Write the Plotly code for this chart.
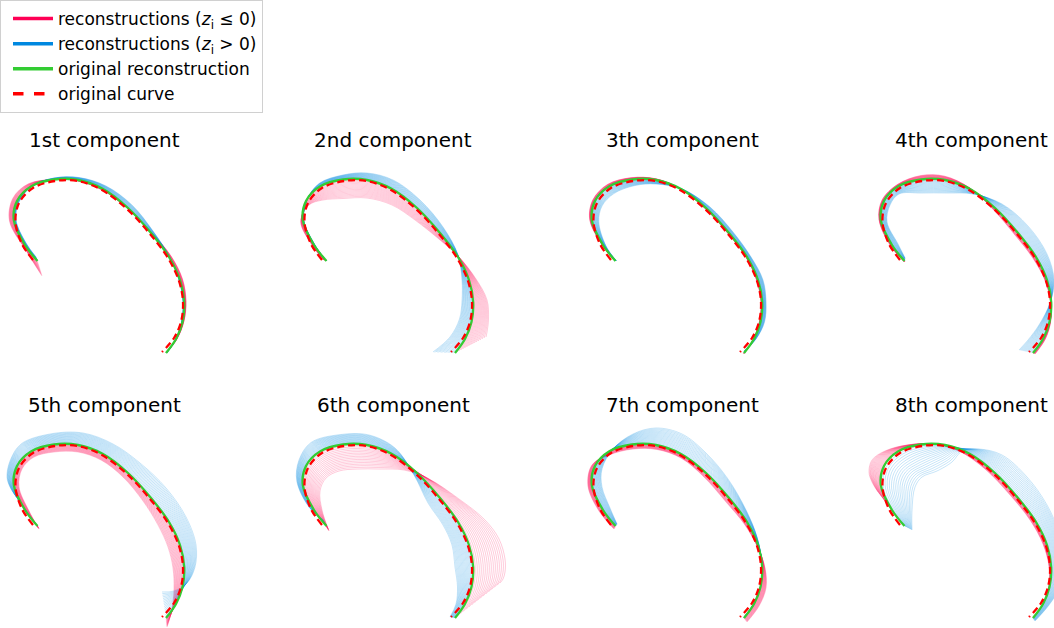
import plotly.graph_objects as go

W, H = 1054, 628
COL_STEP = 289
ROW_STEP = 265

titles = ["1st component", "2nd component", "3th component", "4th component",
          "5th component", "6th component", "7th component", "8th component"]

# z levels (fraction of the extreme latent value) for the reconstructions
z_levels = [0.0625, 0.125, 0.1875, 0.25, 0.3125, 0.375, 0.4375, 0.5,
            0.5625, 0.625, 0.6875, 0.75, 0.8125, 0.875, 0.9375, 1.0]

# original curve (red dashed), panel-local pixel coords (y downward)
orig_x = [33, 22, 15.5, 19, 33, 55, 78, 102, 127, 150, 168, 179, 183, 181, 174, 162]
orig_y = [260, 244, 222, 203, 188, 181, 181, 190, 209, 234, 258, 281, 302, 322, 338, 352]

# original reconstruction (green)
recon_x = [37.5, 25, 13.8, 17, 31, 54, 78, 103, 128, 151, 169, 180, 184.2, 182.5, 176, 166]
recon_y = [261, 245, 220, 201, 186.5, 179.5, 180, 189, 208, 233, 257, 280, 302, 322, 339, 353]

# extreme reconstructions for each component (neg = z_i <= 0, pos = z_i > 0)
c1_neg_x = [42, 27, 9.5, 13, 28, 54, 78, 102, 127, 151, 171, 182.5, 186, 184, 177, 166]
c1_neg_y = [276, 252, 221, 198, 184, 179.5, 181, 190, 208, 232, 256, 279, 301, 321, 339, 353]
c1_pos_x = [36, 26, 16, 19, 32, 54, 79, 106, 132, 153, 169, 179, 183, 181.5, 176, 167]
c1_pos_y = [257, 243, 220, 202, 186, 178, 177.5, 186, 205, 231, 256, 280, 302, 322, 339, 353]

c2_neg_x = [34.5, 23, 11.8, 20, 34, 54, 78, 103, 126, 151, 170, 187, 198, 199.5, 198, 197]
c2_neg_y = [260, 245, 222, 205, 200, 198.5, 198, 205, 220, 240, 257, 279, 300, 319, 332, 337]
c2_pos_x = [37.5, 26, 14.8, 18, 30, 54, 78, 104, 131, 154, 169, 173, 173, 170.5, 161, 144]
c2_pos_y = [261, 245, 220, 200, 183.5, 175, 173, 180, 200, 227, 255, 280, 301, 319, 337, 352]

c3_neg_x = [37.2, 24, 11.7, 15, 29.5, 53, 78, 102.7, 126.8, 149.8, 167.8, 178.5, 183, 181.3, 175.4, 166]
c3_neg_y = [261, 244.7, 219.4, 199.5, 184.4, 177.7, 178.8, 189, 208.3, 233.3, 257, 280, 302, 322, 339, 353.6]
c3_pos_x = [38.5, 28, 20.8, 24, 36, 57, 78, 104, 132, 155, 173, 185, 188, 186.5, 178, 166]
c3_pos_y = [261, 246, 222, 206, 193.5, 185.5, 184, 189, 207, 232, 257, 280, 302, 322, 339, 351]

c4_neg_x = [37.4, 23.2, 12, 15.2, 30.7, 54, 77.4, 102.1, 125.9, 148, 165.7, 177.9, 183.6, 183.7, 178.5, 168.2]
c4_neg_y = [262, 245.3, 219.4, 199.8, 184.3, 175.5, 176.1, 187.5, 209.2, 235.1, 257.9, 280, 301.7, 321.1, 338.7, 353.9]
c4_pos_x = [38, 31, 20, 23, 32, 54, 80, 106, 135, 161, 180, 187, 183, 172, 161, 152]
c4_pos_y = [258, 244, 222, 205, 194, 193, 193, 194, 204, 226, 254, 280, 303, 325, 340, 350]

c5_neg_x = [39, 29, 19, 22, 34, 54, 78, 101, 123, 143, 158, 168, 173, 174, 172, 167]
c5_neg_y = [264, 246, 222, 204, 192, 187, 187, 195, 212, 236, 260, 282, 303, 324, 344, 362]
c5_pos_x = [15, 10, 7, 10, 21, 50, 83, 113, 140, 166, 186, 196, 195, 187, 174, 162]
c5_pos_y = [230, 222, 212, 196, 179, 169, 168, 179, 198, 223, 252, 280, 302, 318, 326, 327]

c6_neg_x = [40, 33, 31, 37, 50, 68, 90, 115, 140, 170, 196, 210, 216, 216, 214, 211]
c6_neg_y = [266, 245, 226, 213, 206, 204, 204, 205, 214, 234, 255, 274, 294, 307, 314, 318]
c6_pos_x = [34.5, 20, 7.8, 10, 22, 52, 80, 106, 125, 139, 154, 163, 166, 168.5, 167, 161]
c6_pos_y = [255, 242, 216, 195, 177.5, 169.5, 170, 183, 210, 238, 260, 280, 302, 322, 339, 352]

c7_neg_x = [36, 21, 10, 14, 31, 55, 79, 103, 126, 148, 167, 180, 187, 188, 181, 169]
c7_neg_y = [264, 246, 221, 200, 190, 184, 184.5, 193, 212, 237, 260, 283, 303, 323, 341, 357]
c7_pos_x = [39, 32, 24, 24, 35, 55, 78, 104, 128, 150, 168, 179, 184, 182.5, 176, 166]
c7_pos_y = [259, 243, 222, 204, 184, 169, 163, 169, 188, 214, 245, 272, 300, 321, 338, 352]

c8_neg_x = [11, 5, 2, 5, 18, 40, 68, 92, 118, 143, 163, 176, 182, 182, 176, 166]
c8_neg_y = [227, 217, 207, 195, 186, 180, 179, 186, 204, 230, 255, 279, 301, 322, 339, 353]
c8_pos_x = [45, 45, 48, 55, 70, 85, 95, 112, 135, 160, 180, 192, 197, 194, 182, 168]
c8_pos_y = [265, 245, 222, 212, 206, 197, 186, 184, 190, 212, 240, 268, 296, 320, 340, 356]

components = [
    (c1_neg_x, c1_neg_y, c1_pos_x, c1_pos_y),
    (c2_neg_x, c2_neg_y, c2_pos_x, c2_pos_y),
    (c3_neg_x, c3_neg_y, c3_pos_x, c3_pos_y),
    (c4_neg_x, c4_neg_y, c4_pos_x, c4_pos_y),
    (c5_neg_x, c5_neg_y, c5_pos_x, c5_pos_y),
    (c6_neg_x, c6_neg_y, c6_pos_x, c6_pos_y),
    (c7_neg_x, c7_neg_y, c7_pos_x, c7_pos_y),
    (c8_neg_x, c8_neg_y, c8_pos_x, c8_pos_y),
]

PINK = "#ff0055"
BLUE = "#0088e0"
GREEN = "#33cc33"
RED = "#ff0000"
PINK_THIN = "rgba(255,20,90,0.28)"
BLUE_THIN = "rgba(0,136,224,0.28)"

fig = go.Figure()
layout_axes = {}
annotations = []

for i, (nx, ny, px, py) in enumerate(components):
    r, c = divmod(i, 4)
    ax = "" if i == 0 else str(i + 1)
    xref, yref = "x" + ax, "y" + ax
    px0 = c * COL_STEP
    px1 = min(px0 + COL_STEP, W)
    py0 = r * ROW_STEP + 150
    py1 = min(py0 + 250, H)
    layout_axes["xaxis" + ax] = dict(domain=[px0 / W, px1 / W], range=[0, px1 - px0],
                                     visible=False, fixedrange=True)
    layout_axes["yaxis" + ax] = dict(domain=[1 - py1 / H, 1 - py0 / H],
                                     range=[py1 - r * ROW_STEP, py0 - r * ROW_STEP],
                                     visible=False, fixedrange=True)
    for ex, ey, col in ((nx, ny, PINK_THIN), (px, py, BLUE_THIN)):
        for t in z_levels:
            xs = [g + t * (e - g) for g, e in zip(recon_x, ex)]
            ys = [g + t * (e - g) for g, e in zip(recon_y, ey)]
            fig.add_trace(go.Scatter(x=xs, y=ys, mode="lines", xaxis=xref, yaxis=yref,
                                     line=dict(color=col, width=0.8, shape="spline"),
                                     showlegend=False, hoverinfo="skip"))
    fig.add_trace(go.Scatter(x=recon_x, y=recon_y, mode="lines", xaxis=xref, yaxis=yref,
                             line=dict(color=GREEN, width=2.3, shape="spline"),
                             showlegend=False, hoverinfo="skip"))
    fig.add_trace(go.Scatter(x=orig_x, y=orig_y, mode="lines", xaxis=xref, yaxis=yref,
                             line=dict(color=RED, width=2.3, shape="spline", dash="7px,4px"),
                             showlegend=False, hoverinfo="skip"))
    annotations.append(dict(text=titles[i], xref="paper", yref="paper",
                            x=(104 + c * COL_STEP) / W, y=1 - (140 + r * ROW_STEP) / H,
                            xanchor="center", yanchor="middle", showarrow=False,
                            font=dict(family="DejaVu Sans", size=20, color="black")))

legend_items = [
    ("reconstructions (<i>z</i><sub>i</sub> ≤ 0)", PINK, "solid"),
    ("reconstructions (<i>z</i><sub>i</sub> > 0)", BLUE, "solid"),
    ("original reconstruction", GREEN, "solid"),
    ("original curve", RED, "dash"),
]
for name, col, dash in legend_items:
    fig.add_trace(go.Scatter(x=[None], y=[None], mode="lines", name=name,
                             line=dict(color=col, width=3.5, dash=dash),
                             xaxis="x", yaxis="y"))

fig.update_layout(
    width=W, height=H, autosize=False,
    margin=dict(l=0, r=0, t=0, b=0),
    paper_bgcolor="white", plot_bgcolor="white",
    annotations=annotations,
    legend=dict(x=0, y=1, xanchor="left", yanchor="top",
                bordercolor="#d0d0d0", borderwidth=1, bgcolor="white",
                font=dict(family="DejaVu Sans", size=17, color="black"),
                itemwidth=40, indentation=7, tracegroupgap=0),
    **layout_axes,
)

fig.write_html("out.html", config={"displayModeBar": False},
               post_script="document.body.style.margin='0';document.body.style.overflow='hidden';")
